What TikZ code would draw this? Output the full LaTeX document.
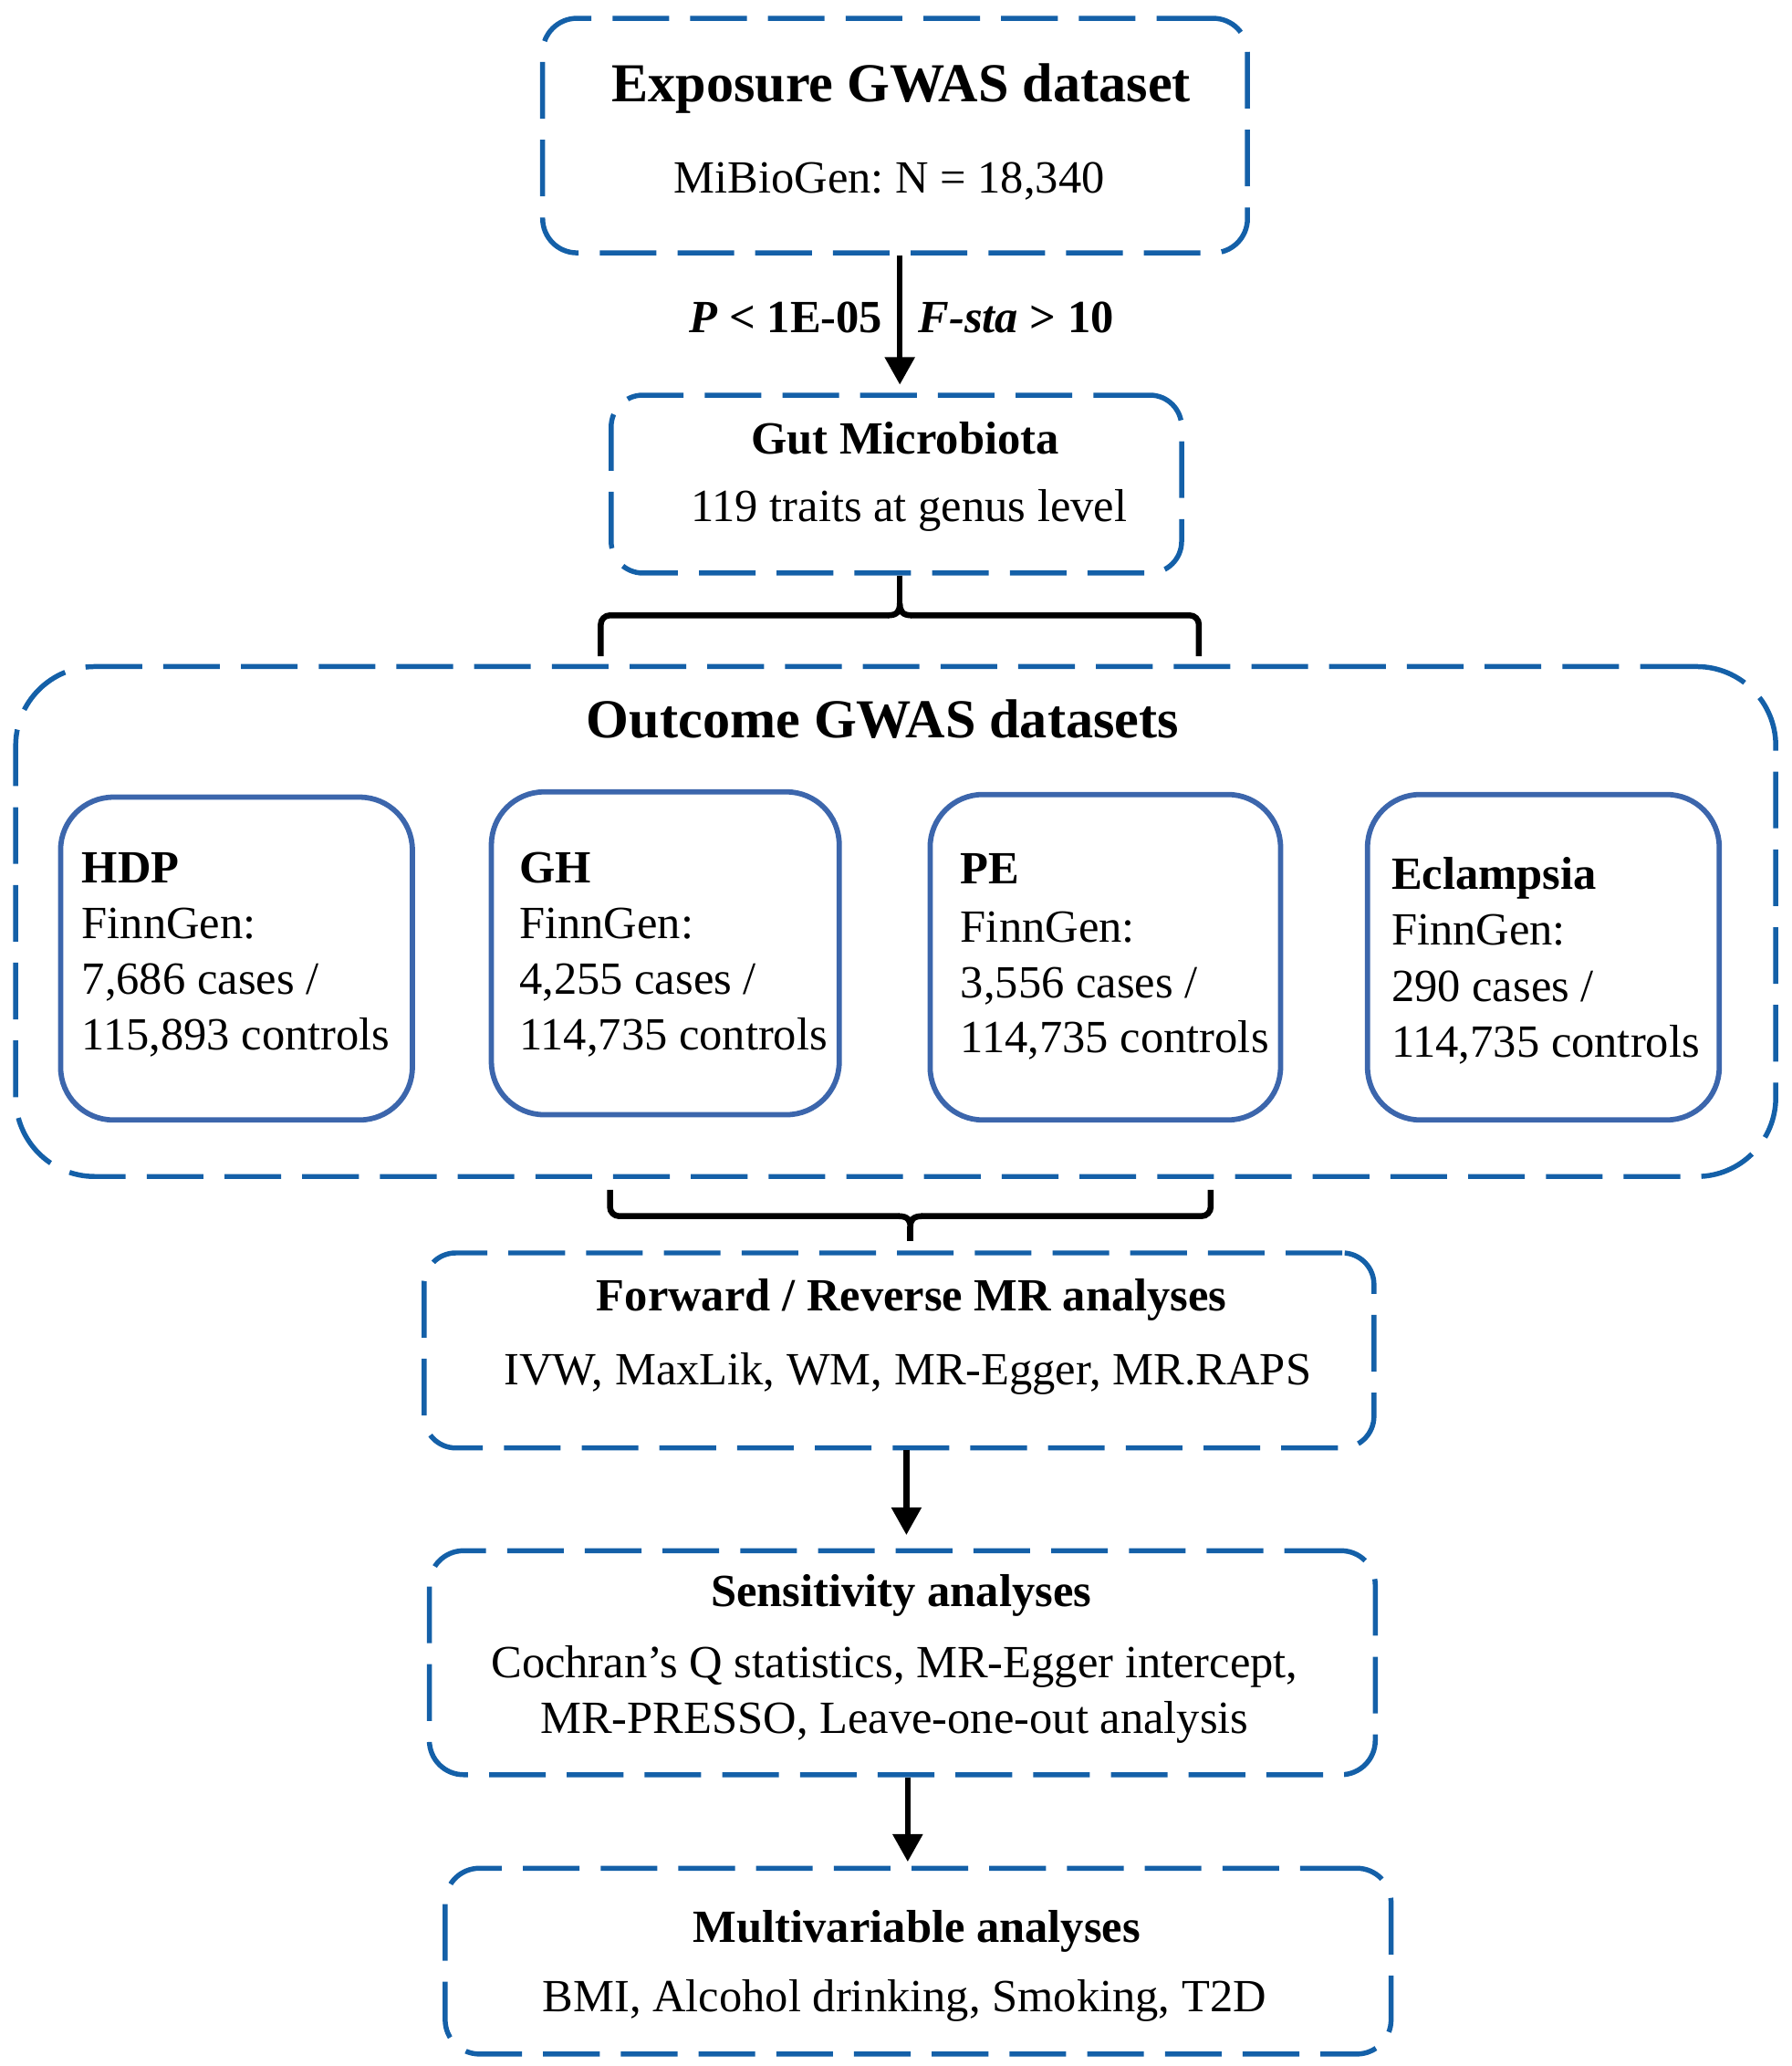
\documentclass[tikz,border=0pt]{standalone}
\usepackage{fontspec}
\setmainfont{Liberation Serif}
\usetikzlibrary{arrows.meta}
\definecolor{dblue}{RGB}{20,96,168}
\definecolor{sblue}{RGB}{60,102,172}
\frenchspacing
\begin{document}
\begin{tikzpicture}[x=1pt,y=-1pt,
  dbox/.style={draw=dblue, line width=3.8pt, dash pattern=on 43pt off 16pt, rounded corners=26pt, inner sep=0pt, anchor=north west},
  sbox/.style={draw=sblue, line width=4pt, rounded corners=40pt, inner sep=0pt, anchor=north west},
  bigt/.style={font=\fontsize{41.7}{50}\selectfont\bfseries, anchor=base, inner sep=0pt},
  hd/.style={font=\fontsize{35}{42}\selectfont\bfseries, anchor=base, inner sep=0pt},
  tx/.style={font=\fontsize{35}{42}\selectfont, anchor=base, inner sep=0pt},
  arr/.style={line width=4.5pt, -{Triangle[length=21pt,width=22pt]}},
  brk/.style={line width=4.5pt, rounded corners=7pt}
]
\useasboundingbox (0,0) rectangle (1360,1568);

% boxes
\node[dbox, minimum width=535pt, minimum height=178pt] (box1) at (410,12) {};
\node[dbox, rounded corners=24pt, minimum width=433pt, minimum height=135pt] (box2) at (462,298) {};
\node[dbox, rounded corners=60pt, minimum width=1336pt, minimum height=387pt] (outer) at (10,504) {};
\node[sbox, minimum width=267pt, minimum height=245pt] (hdp) at (44,603) {};
\node[sbox, minimum width=264pt, minimum height=245pt] (gh) at (371,599) {};
\node[sbox, minimum width=266pt, minimum height=247pt] (pe) at (704,601) {};
\node[sbox, minimum width=267pt, minimum height=247pt] (ecl) at (1036,601) {};
\node[dbox, rounded corners=24pt, minimum width=721pt, minimum height=148pt] (fwd) at (320,949) {};
\node[dbox, minimum width=718pt, minimum height=170pt] (sens) at (324,1175) {};
\node[dbox, minimum width=718pt, minimum height=141pt] (multi) at (336,1416) {};

% texts
\node[bigt] (t1a) at (684,77) {Exposure GWAS dataset};
\node[tx] (t1b) at (675,146.5) {MiBioGen: N = 18,340};
\node[hd, anchor=base east] (lp) at (670,252.6) {\textit{P} < 1E-05};
\node[hd, anchor=base west] (lf) at (697,252.6) {\textit{F-sta} > 10};
\node[hd] (t2a) at (687,344.7) {Gut Microbiota};
\node[tx] (t2b) at (690,395.6) {119 traits at genus level};
\node[bigt] (t3) at (670,560) {Outcome GWAS datasets};

\node[hd, anchor=base west] (h1) at (62,670) {HDP};
\node[tx, anchor=base west] (h2) at (62,712) {FinnGen:};
\node[tx, anchor=base west] (h3) at (62,754.6) {7,686 cases /};
\node[tx, anchor=base west] (h4) at (62,797) {115,893 controls};

\node[hd, anchor=base west] (g1) at (394,670) {GH};
\node[tx, anchor=base west] (g2) at (394,712) {FinnGen:};
\node[tx, anchor=base west] (g3) at (394,754.6) {4,255 cases /};
\node[tx, anchor=base west] (g4) at (394,797) {114,735 controls};

\node[hd, anchor=base west] (p1) at (729,671) {PE};
\node[tx, anchor=base west] (p2) at (729,715) {FinnGen:};
\node[tx, anchor=base west] (p3) at (729,757) {3,556 cases /};
\node[tx, anchor=base west] (p4) at (729,799) {114,735 controls};

\node[hd, anchor=base west] (e1) at (1056,675) {Eclampsia};
\node[tx, anchor=base west] (e2) at (1056,717.5) {FinnGen:};
\node[tx, anchor=base west] (e3) at (1056,760) {290 cases /};
\node[tx, anchor=base west] (e4) at (1056,802) {114,735 controls};

\node[hd] (f1) at (692,995) {Forward / Reverse MR analyses};
\node[tx] (f2) at (689,1050.7) {IVW, MaxLik, WM, MR-Egger, MR.RAPS};

\node[hd] (s1) at (684,1219) {Sensitivity analyses};
\node[tx] (s2) at (679,1273.4) {Cochran’s Q statistics, MR-Egger intercept,};
\node[tx] (s3) at (679,1315.4) {MR-PRESSO, Leave-one-out analysis};

\node[hd] (m1) at (696,1474) {Multivariable analyses};
\node[tx] (m2) at (686.5,1526.7) {BMI, Alcohol drinking, Smoking, T2D};

% connector coordinates
\coordinate (a1) at (683,0);
\coordinate (a2) at (688,0);
\coordinate (a3) at (689,0);
\coordinate (j1) at (683,458);
\coordinate (j1l) at (456,498);
\coordinate (j1r) at (910,498);
\coordinate (j2) at (691,931);
\coordinate (j2l) at (463,903);
\coordinate (j2r) at (919,903);

% arrows
\draw[arr, shorten >=6pt] (box1.south -| a1) -- (box2.north -| a1);
\draw[arr, shorten >=10pt] (fwd.south -| a2) -- (sens.north -| a2);
\draw[arr, shorten >=3pt] (sens.south -| a3) -- (multi.north -| a3);

% brackets (brace-like)
\draw[brk] (j1l) -- (456,467) -- (675,467);
\draw[line width=4.5pt] (674,467) .. controls (681,467) and (683,464) .. (j1)
                        .. controls (683,464) and (685,467) .. (692,467);
\draw[brk] (691,467) -- (910,467) -- (j1r);
\draw[line width=4.5pt] (box2.south -| j1) -- (j1);

\draw[brk] (j2l) -- (463,923) -- (683,923);
\draw[line width=4.5pt] (682,923) .. controls (689,923) and (691,926) .. (j2)
                        .. controls (691,926) and (693,923) .. (700,923);
\draw[brk] (699,923) -- (919,923) -- (j2r);
\draw[line width=4.5pt, shorten >=7pt] (j2) -- (fwd.north -| j2);
\end{tikzpicture}
\end{document}
